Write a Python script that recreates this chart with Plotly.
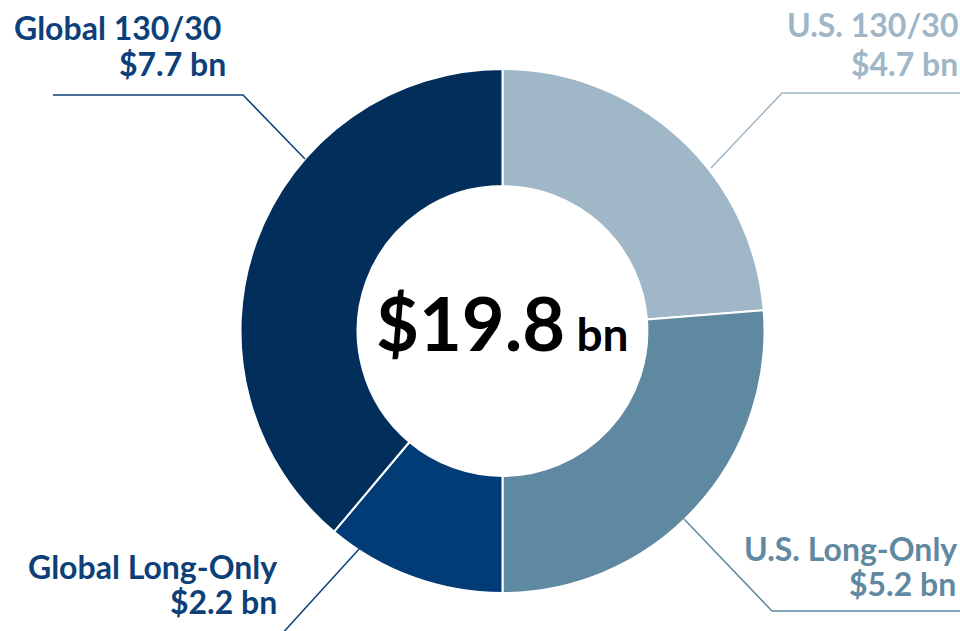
import plotly.graph_objects as go

W, H = 960, 631

categories = ["U.S. 130/30", "U.S. Long-Only", "Global Long-Only", "Global 130/30"]
values = [4.7, 5.2, 2.2, 7.7]
value_labels = ["$4.7 bn", "$5.2 bn", "$2.2 bn", "$7.7 bn"]
slice_colors = ["#a0b7c7", "#5f88a1", "#023c77", "#012e5b"]
label_colors = ["#9fb6c6", "#5f88a1", "#0d3f78", "#0d3f78"]
total_label = "$19.8"
total_unit = "bn"

cx, cy, R = 502.5, 331, 262


def px(x):
    return x / W


def py(y):
    return 1 - y / H


fig = go.Figure(go.Pie(
    labels=categories,
    values=values,
    hole=0.553,
    sort=False,
    direction="clockwise",
    rotation=0,
    marker=dict(colors=slice_colors, line=dict(color="white", width=2)),
    textinfo="none",
    hoverinfo="label+value",
    showlegend=False,
    domain=dict(x=[px(cx - R), px(cx + R)], y=[py(cy + R), py(cy - R)]),
))

FONT = "Lato"
FS = 32

# (right edge x, cap-middle y) for the name line and the value line, in pixels
label_pos = {
    "U.S. 130/30": ((959, 28), (959, 66)),
    "U.S. Long-Only": ((958, 551), (957, 586)),
    "Global Long-Only": ((278, 569), (278, 604)),
    "Global 130/30": ((222, 30), (227, 66)),
}
leaders = {
    "U.S. 130/30": [(711, 168), (782, 93), (965, 93)],
    "U.S. Long-Only": [(684, 519), (772, 611), (965, 611)],
    "Global Long-Only": [(360, 548), (280, 636)],
    "Global 130/30": [(305, 159), (243, 95), (53, 95)],
}

annotations = []
shapes = []
for cat, vl, col in zip(categories, value_labels, label_colors):
    (x1, y1), (x2, y2) = label_pos[cat]
    for txt, (x, y) in ((cat, (x1, y1)), (vl, (x2, y2))):
        annotations.append(dict(
            x=px(x + 1), y=py(y - 3), xref="paper", yref="paper",
            xanchor="right", yanchor="middle", align="right",
            text=f"<b>{txt}</b>",
            showarrow=False,
            font=dict(family=FONT, size=FS, color=col),
        ))
    pts = leaders[cat]
    path = "M " + " L ".join(f"{px(a)},{py(b)}" for a, b in pts)
    shapes.append(dict(type="path", path=path, xref="paper", yref="paper",
                       line=dict(color=col, width=1.5)))

annotations.append(dict(
    x=px(cx), y=py(322), xref="paper", yref="paper",
    xanchor="center", yanchor="middle",
    text=f"<b>{total_label}</b><span style='font-size:46px'><b> {total_unit}</b></span>",
    showarrow=False,
    font=dict(family=FONT, size=74, color="#000000"),
))

fig.update_layout(
    width=W, height=H,
    margin=dict(l=0, r=0, t=0, b=0),
    paper_bgcolor="white", plot_bgcolor="white",
    annotations=annotations, shapes=shapes,
)

fig.write_html(
    "out.html",
    config={"displayModeBar": False},
    post_script="document.body.style.margin='0';document.body.style.overflow='hidden';",
)
